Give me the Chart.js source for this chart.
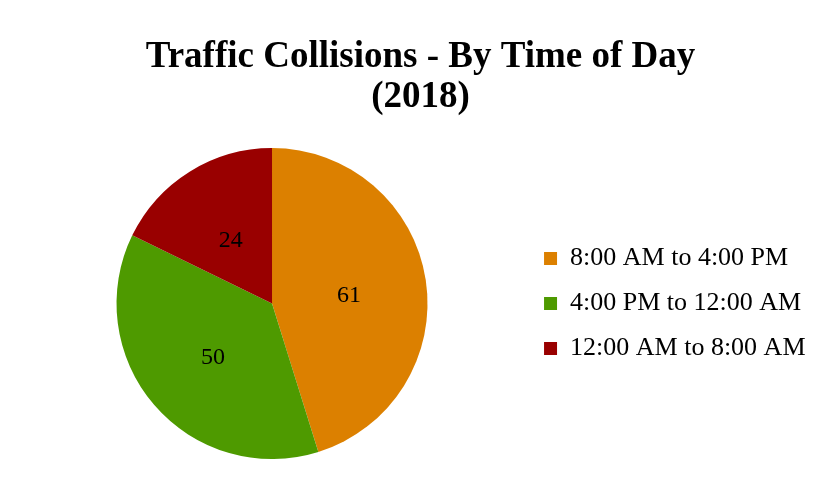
<!DOCTYPE html>
<html><head><meta charset="utf-8">
<script src="https://cdn.jsdelivr.net/npm/chart.js@4/dist/chart.umd.min.js"></script>
<style>html,body{margin:0;padding:0;background:#fff;overflow:hidden;}</style>
</head><body>
<canvas id="c" width="822" height="483" style="width:822px;height:483px;display:block"></canvas>
<script>
const categories = ['8:00 AM to 4:00 PM', '4:00 PM to 12:00 AM', '12:00 AM to 8:00 AM'];
const collisions = [61, 50, 24];
const sliceColors = ['#DC8000', '#4E9A00', '#990000'];
const titleLines = ['Traffic Collisions - By Time of Day', '(2018)'];

const SERIF = '"Liberation Serif", "Times New Roman", serif';

const valueLabels = {
  id: 'valueLabels',
  afterDatasetsDraw(chart) {
    const ctx = chart.ctx;
    const meta = chart.getDatasetMeta(0);
    ctx.save();
    ctx.font = '24px ' + SERIF;
    ctx.fillStyle = '#000';
    ctx.textAlign = 'center';
    ctx.textBaseline = 'middle';
    meta.data.forEach((arc, i) => {
      const p = arc.tooltipPosition();
      ctx.fillText(String(chart.data.datasets[0].data[i]), p.x, p.y + 3.5);
    });
    ctx.restore();
  }
};

new Chart(document.getElementById('c'), {
  type: 'pie',
  data: {
    labels: categories,
    datasets: [{
      data: collisions,
      backgroundColor: sliceColors,
      borderWidth: 0
    }]
  },
  options: {
    responsive: false,
    animation: false,
    layout: { padding: { left: 19, right: 0, top: 20, bottom: 24 } },
    plugins: {
      tooltip: { enabled: false },
      title: {
        display: true,
        text: titleLines,
        color: '#000',
        font: { family: SERIF, size: 37, weight: 'bold', lineHeight: 40 / 37 },
        padding: { top: 17.5, bottom: 30.5 }
      },
      legend: {
        position: 'right',
        align: 'center',
        fullSize: false,
        labels: {
          color: '#000',
          font: { family: SERIF, size: 26 },
          boxWidth: 13,
          boxHeight: 13,
          padding: 19,
          generateLabels(chart) {
            const items = Chart.overrides.pie.plugins.legend.labels.generateLabels(chart);
            items.forEach(it => { it.text = it.text + '\u00A0'; });
            return items;
          }
        }
      }
    }
  },
  plugins: [valueLabels]
});
</script>
</body></html>
